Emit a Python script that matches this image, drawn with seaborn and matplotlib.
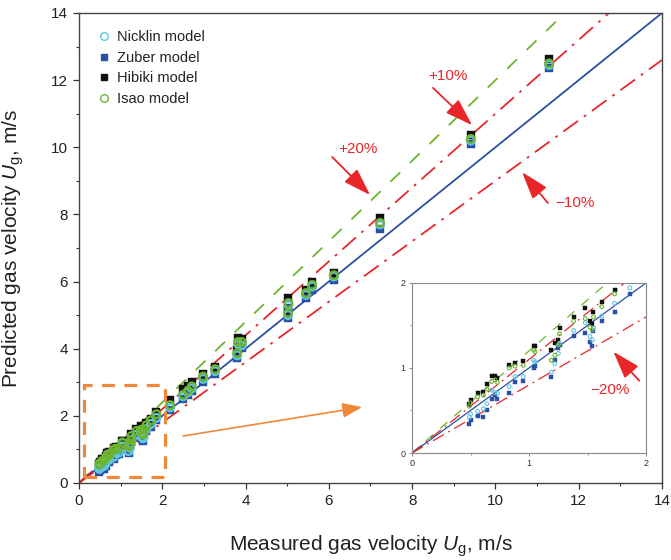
import numpy as np
import pandas as pd
import matplotlib
matplotlib.use("Agg")
import matplotlib.pyplot as plt
import seaborn as sns
from matplotlib.patches import Rectangle
from matplotlib.lines import Line2D

# ---------------- data ----------------
measured = [0.49, 0.50, 0.56, 0.61, 0.64, 0.68, 0.71, 0.73, 0.83, 0.88, 0.95,
            1.04, 1.05, 1.19, 1.22, 1.25, 1.26, 1.38, 1.48, 1.52, 1.54, 1.55,
            1.62, 1.73, 1.86,
            2.19, 2.50, 2.62, 2.71, 2.98, 3.27, 3.80, 3.82, 3.91, 5.02, 5.03,
            5.45, 5.60, 6.12, 7.23, 9.41, 11.29]
nicklin = [0.42, 0.46, 0.49, 0.52, 0.58, 0.74, 0.71, 0.70, 0.78, 0.90, 0.90,
           1.09, 1.07, 0.95, 1.05, 1.17, 1.29, 1.44, 1.53, 1.37, 1.33, 1.47,
           1.61, 1.76, 1.94,
           2.25, 2.58, 2.70, 2.82, 3.10, 3.33, 3.80, 4.14, 4.10, 5.00, 5.30,
           5.60, 5.85, 6.15, 7.70, 10.20, 12.45]
zuber = [0.34, 0.39, 0.43, 0.42, 0.50, 0.63, 0.68, 0.64, 0.71, 0.83, 0.85,
         1.00, 1.02, 0.89, 1.09, 1.23, 1.27, 1.38, 1.41, 1.31, 1.26, 1.43,
         1.55, 1.66, 1.87,
         2.17, 2.50, 2.62, 2.75, 3.01, 3.25, 3.72, 4.05, 4.02, 4.92, 5.21,
         5.51, 5.75, 6.05, 7.58, 10.10, 12.36]
hibiki = [0.58, 0.62, 0.70, 0.72, 0.81, 0.90, 0.91, 0.88, 1.04, 1.06, 1.08,
          1.26, 1.26, 1.21, 1.29, 1.33, 1.47, 1.60, 1.70, 1.55, 1.52, 1.66,
          1.78, 1.91, 2.10,
          2.47, 2.80, 2.88, 3.00, 3.25, 3.46, 3.96, 4.32, 4.30, 5.15, 5.51,
          5.75, 5.99, 6.25, 7.88, 10.37, 12.63]
isao = [0.55, 0.59, 0.66, 0.68, 0.75, 0.84, 0.86, 0.83, 1.00, 1.02, 1.03,
        1.21, 1.19, 1.09, 1.15, 1.27, 1.40, 1.55, 1.58, 1.48, 1.45, 1.60,
        1.72, 1.87, 2.05,
        2.32, 2.63, 2.75, 2.88, 3.17, 3.39, 3.87, 4.20, 4.20, 5.06, 5.36,
        5.66, 5.90, 6.19, 7.75, 10.25, 12.50]

models = ["Nicklin model", "Zuber model", "Hibiki model", "Isao model"]
ref_ratios = [1.2, 1.1, 1.0, 0.9]          # main panel: +20%, +10%, y=x, -10%
inset_ratios = [1.2, 1.1, 1.0, 0.8]        # inset: +20%, +10%, y=x, -20%
line_x = [0, 14]
ticks_main = [0, 2, 4, 6, 8, 10, 12, 14]
ticks_inset = [0, 1, 2]

df = pd.DataFrame({
    "measured": measured * 4,
    "predicted": nicklin + zuber + hibiki + isao,
    "model": sum([[m] * len(measured) for m in models], []),
})

# ---------------- style ----------------
sns.set_style("ticks")
plt.rcParams["font.family"] = ["Liberation Sans", "DejaVu Sans"]
plt.rcParams["mathtext.fontset"] = "custom"
plt.rcParams["mathtext.rm"] = "Liberation Sans"
plt.rcParams["mathtext.it"] = "Liberation Sans:italic"

C_CYAN = "#5fc6e6"
C_BLUE = "#2b4fa3"
C_BLACK = "#111111"
C_GREEN = "#6cb52d"
C_RED = "#e8262a"
C_ORANGE = "#f0883a"
C_LINE_BLUE = "#2b4fa3"

styles = {
    "Nicklin model": dict(marker="o", filled=False, color=C_CYAN),
    "Zuber model": dict(marker="s", filled=True, color=C_BLUE),
    "Hibiki model": dict(marker="s", filled=True, color=C_BLACK),
    "Isao model": dict(marker="o", filled=False, color=C_GREEN),
}
DASHDOT = (0, (10, 4, 1.5, 4))
line_styles = {
    1.2: dict(color=C_GREEN, ls=(0, (7.5, 7.5))),
    1.1: dict(color=C_RED, ls=DASHDOT),
    1.0: dict(color=C_LINE_BLUE, ls="-"),
    0.9: dict(color=C_RED, ls=DASHDOT),
    0.8: dict(color=C_RED, ls=DASHDOT),
}

fig = plt.figure(figsize=(6.71, 5.60), dpi=100)
ax = fig.add_axes([0.1177, 0.1375, 0.8689, 0.8393])


def draw(axis, ratios, size, lw_marker, lw_line):
    for r in ratios:
        st = line_styles[r]
        sns.lineplot(x=line_x, y=[v * r for v in line_x], ax=axis,
                     color=st["color"], linestyle=st["ls"], lw=lw_line,
                     zorder=2, legend=False)
    handles = []
    for m in models:
        st = styles[m]
        sub = df[df["model"] == m]
        if st["filled"]:
            sns.scatterplot(data=sub, x="measured", y="predicted", ax=axis,
                            marker=st["marker"], s=size, color=st["color"],
                            edgecolor=st["color"], linewidth=0.3, zorder=3,
                            legend=False)
        else:
            sns.scatterplot(data=sub, x="measured", y="predicted", ax=axis,
                            marker=st["marker"], s=size * 0.8,
                            color=st["color"], facecolor="none",
                            edgecolor=st["color"], linewidth=lw_marker,
                            zorder=4, legend=False)
        handles.append(Line2D([], [], ls="none", marker=st["marker"],
                              markersize=5 if st["filled"] else 5.5,
                              markerfacecolor=st["color"] if st["filled"] else "none",
                              markeredgecolor=st["color"], markeredgewidth=1.0,
                              label=m))
    return handles


handles = draw(ax, ref_ratios, 38, 1.6, 1.3)

ax.set_xlim(0, 14)
ax.set_ylim(0, 14)
ax.set_xticks(ticks_main)
ax.set_yticks(ticks_main)
ax.set_xticks(np.arange(1, 14, 2), minor=True)
ax.set_yticks(np.arange(1, 14, 2), minor=True)
ax.tick_params(axis="both", which="major", labelsize=11, length=4,
               width=0.9, direction="out", colors="#333333", labelcolor="#222222",
               pad=4)
ax.tick_params(axis="both", which="minor", length=2.5, width=0.8,
               direction="out", colors="#333333")
for sp in ax.spines.values():
    sp.set_visible(True)
    sp.set_color("#444444")
    sp.set_linewidth(1.0)

ax.set_xlabel("Measured gas velocity $\\mathit{U}_{\\rm g}$, m/s", fontsize=15,
              labelpad=18, color="#222222")
ax.set_ylabel("Predicted gas velocity $\\mathit{U}_{\\rm g}$, m/s", fontsize=15,
              labelpad=18, color="#222222")

leg = ax.legend(handles=handles, loc="upper left", bbox_to_anchor=(0.01, 0.985),
                frameon=False, fontsize=10.5, handletextpad=0.3,
                labelspacing=0.45, borderaxespad=0.3, handlelength=1.2)
for t in leg.get_texts():
    t.set_color("#222222")

# annotations
arrow_kw = dict(arrowstyle="-|>,head_length=0.85,head_width=0.28",
                color=C_RED, lw=1.3, mutation_scale=20, shrinkA=0, shrinkB=0)
ax.annotate("", xy=(9.44, 10.66), xytext=(8.50, 11.77), arrowprops=arrow_kw)
ax.text(8.86, 12.12, "+10%", color=C_RED, fontsize=11, ha="center", va="center")
ax.annotate("", xy=(6.99, 8.58), xytext=(6.08, 9.71), arrowprops=arrow_kw)
ax.text(6.70, 9.95, "+20%", color=C_RED, fontsize=11, ha="center", va="center")
ax.annotate("", xy=(10.64, 9.26), xytext=(11.26, 8.34), arrowprops=arrow_kw)
ax.text(11.90, 8.34, "\u221210%", color=C_RED, fontsize=11, ha="center", va="center")

# orange zoom box and arrow
ax.add_patch(Rectangle((0.12, 0.18), 1.95, 2.74, fill=False, ec=C_ORANGE,
                       lw=2.3, ls=(0, (4, 3)), zorder=5))
ax.annotate("", xy=(6.80, 2.26), xytext=(2.50, 1.40),
            arrowprops=dict(arrowstyle="-|>,head_length=0.8,head_width=0.3",
                            color=C_ORANGE, lw=1.2, mutation_scale=15,
                            shrinkA=0, shrinkB=0))

# ---------------- inset ----------------
axin = fig.add_axes([0.614, 0.191, 0.349, 0.304])
draw(axin, inset_ratios, 9, 0.8, 0.9)
axin.set_xlim(0, 2)
axin.set_ylim(0, 2)
axin.set_xticks(ticks_inset)
axin.set_yticks(ticks_inset)
axin.set_xticks([0.5, 1.5], minor=True)
axin.set_yticks([0.5, 1.5], minor=True)
axin.set_xlabel("")
axin.set_ylabel("")
axin.tick_params(axis="both", which="major", labelsize=6.5, length=2.5,
                 width=0.6, direction="out", colors="#777777",
                 labelcolor="#333333", pad=2)
axin.tick_params(axis="both", which="minor", length=1.5, width=0.5,
                 direction="out", colors="#777777")
for sp in axin.spines.values():
    sp.set_visible(True)
    sp.set_color("#888888")
    sp.set_linewidth(0.8)
axin.annotate("", xy=(1.72, 1.19), xytext=(1.94, 0.85), annotation_clip=False,
              arrowprops=arrow_kw)
axin.text(1.69, 0.74, "\u221220%", color=C_RED, fontsize=11, ha="center",
          va="center")

fig.savefig("out.png", dpi=100)
